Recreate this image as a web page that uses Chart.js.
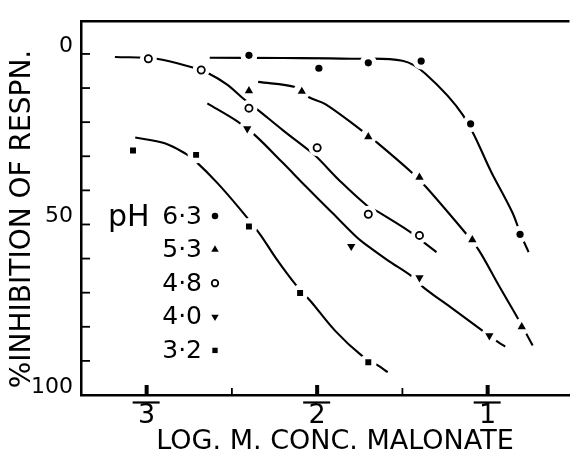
<!DOCTYPE html>
<html><head><meta charset="utf-8">
<script src="https://cdn.jsdelivr.net/npm/chart.js@4.4.0/dist/chart.umd.min.js"></script>
<style>html,body{margin:0;padding:0;background:#fff;}#wrap{width:578px;height:457px;}</style>
</head><body><div id="wrap"><canvas id="c" width="578" height="457"></canvas></div>
<script>
// ---- data ----
const phLabels = ['6·3', '5·3', '4·8', '4·0', '3·2'];
const xTickValues = [-3, -2, -1];
const xTickText = ['3', '2', '1'];   // printed with a bar over them (negative characteristic)
const yTickLabelValues = [0, 50, 100];
const xTitle = 'LOG. M. CONC. MALONATE';
const yTitle = '%INHIBITION OF RESPN.';

// measured points (x = log molar conc., y = % inhibition)
const ph63X = [-2.40, -1.99, -1.70, -1.39, -1.10, -0.81];
const ph63Y = [0.4, 4.2, 2.6, 2.1, 20.5, 52.9];
const ph53X = [-2.40, -2.09, -1.70, -1.40, -1.09, -0.80];
const ph53Y = [10.8, 11.0, 24.3, 36.2, 54.5, 80.0];
const ph48X = [-2.99, -2.68, -2.40, -2.00, -1.70, -1.40];
const ph48Y = [1.4, 4.7, 15.9, 27.5, 47.0, 53.2];
const ph40X = [-2.41, -1.80, -1.40, -0.99];
const ph40Y = [21.9, 56.4, 65.6, 82.6];
const ph32X = [-3.08, -2.71, -2.40, -2.10, -1.70];
const ph32Y = [28.3, 29.6, 50.6, 70.1, 90.4];

// hand-drawn fitted curves
const curve63X = [-2.63, -2.2, -1.8, -1.5, -1.365, -1.144, -0.976, -0.855, -0.806, -0.76];
const curve63Y = [1.1, 1.2, 1.4, 2.0, 5.8, 18.0, 34.9, 46.5, 52.9, 58.1];
const curve53X = [-2.346, -2.125, -2.048, -1.952, -1.74, -1.653, -1.442, -1.356, -1.125, -1.051, -0.937, -0.82, -0.736];
const curve53Y = [8.2, 9.8, 12.7, 14.7, 22.4, 25.8, 34.9, 39.3, 52.8, 57.6, 67.7, 77.8, 85.5];
const curve48X = [-3.186, -2.942, -2.72, -2.644, -2.53, -2.43, -2.355, -2.2, -2.048, -2.005, -1.855, -1.70, -1.653, -1.451, -1.365, -1.30];
const curve48Y = [0.9, 1.4, 4.1, 5.5, 8.9, 13.2, 16.1, 22.4, 28.3, 30.1, 37.8, 44.8, 46.0, 52.3, 55.6, 58.1];
const curve40X = [-2.644, -2.47, -2.365, -2.2, -2.067, -1.913, -1.769, -1.72, -1.586, -1.442, -1.375, -1.2, -1.029, -0.936, -0.897];
const curve40Y = [14.5, 19.7, 23.8, 32.0, 38.8, 46.5, 53.7, 55.7, 60.5, 65.3, 68.5, 74.9, 81.2, 84.6, 85.8];
const curve32X = [-3.067, -2.894, -2.77, -2.712, -2.586, -2.452, -2.336, -2.24, -2.125, -2.038, -1.894, -1.74, -1.644, -1.586];
const curve32Y = [24.5, 26.2, 29.3, 31.5, 37.8, 45.5, 52.8, 60.0, 67.7, 72.5, 81.2, 88.4, 91.3, 93.3];

// ---- build datasets ----
const zip = (xs, ys) => xs.map((x, i) => ({x, y: ys[i]}));
const markerStyles = [
  {pointStyle: 'circle', radius: 3.6, rotation: 0, fill: '#000', borderWidth: 0},
  {pointStyle: 'triangle', radius: 4.8, rotation: 0, fill: '#000', borderWidth: 0},
  {pointStyle: 'circle', radius: 3.6, rotation: 0, fill: '#fff', borderWidth: 1.8},
  {pointStyle: 'triangle', radius: 4.8, rotation: 180, fill: '#000', borderWidth: 0},
  {pointStyle: 'rect', radius: 4.2, rotation: 0, fill: '#000', borderWidth: 0}
];
const seriesX = [ph63X, ph53X, ph48X, ph40X, ph32X];
const seriesY = [ph63Y, ph53Y, ph48Y, ph40Y, ph32Y];
const curvesX = [curve63X, curve53X, curve48X, curve40X, curve32X];
const curvesY = [curve63Y, curve53Y, curve48Y, curve40Y, curve32Y];

const datasets = [];
phLabels.forEach((lab, i) => {
  datasets.push({
    label: 'curve ' + lab, data: zip(curvesX[i], curvesY[i]), showLine: true,
    borderColor: '#000', borderWidth: 2.1, pointRadius: 0, pointHoverRadius: 0,
    tension: 0.35, fill: false, order: 3
  });
});
phLabels.forEach((lab, i) => {
  datasets.push({
    label: 'halo ' + lab, data: zip(seriesX[i], seriesY[i]), showLine: false,
    pointStyle: 'circle', pointRadius: 8.5, pointBackgroundColor: '#fff',
    pointBorderWidth: 0, pointBorderColor: '#fff', pointHoverRadius: 8.5, order: 2
  });
});
phLabels.forEach((lab, i) => {
  const m = markerStyles[i];
  datasets.push({
    label: 'pH ' + lab, data: zip(seriesX[i], seriesY[i]), showLine: false,
    pointStyle: m.pointStyle, pointRadius: m.radius, pointRotation: m.rotation,
    pointBackgroundColor: m.fill, pointBorderColor: '#000', pointBorderWidth: m.borderWidth,
    pointHoverRadius: m.radius, order: 1
  });
});

const FONT = 'DejaVu Sans';

const framePlugin = {
  id: 'frame',
  afterDraw(chart) {
    const ctx = chart.ctx, a = chart.chartArea;
    const xs = chart.scales.x, ys = chart.scales.y;
    ctx.save();
    ctx.strokeStyle = '#000';
    // top border
    ctx.lineWidth = 2.5;
    ctx.beginPath(); ctx.moveTo(a.left - 1, a.top); ctx.lineTo(a.right, a.top); ctx.stroke();
    // y inward ticks
    ctx.lineWidth = 1.8;
    ys.ticks.forEach(t => {
      if (t.value >= 0 && t.value < 100) {
        const p = ys.getPixelForValue(t.value);
        ctx.beginPath(); ctx.moveTo(a.left, p); ctx.lineTo(a.left + 9, p); ctx.stroke();
      }
    });
    // x inward ticks + bars over the labels
    xs.ticks.forEach(t => {
      const p = xs.getPixelForValue(t.value);
      const major = Math.abs(t.value - Math.round(t.value)) < 1e-6;
      ctx.lineWidth = major ? 4 : 1.8;
      ctx.beginPath(); ctx.moveTo(p, a.bottom); ctx.lineTo(p, a.bottom - (major ? 10 : 7)); ctx.stroke();
      if (major) {
        ctx.lineWidth = 2.2;
        ctx.beginPath(); ctx.moveTo(p - 14, a.bottom + 7.5); ctx.lineTo(p + 13, a.bottom + 7.5); ctx.stroke();
      }
    });
    ctx.fillStyle = '#000';
    // x title
    ctx.font = '27px "' + FONT + '"';
    ctx.textAlign = 'center'; ctx.textBaseline = 'middle';
    ctx.fillText(xTitle, 335, 442);
    // y title
    ctx.font = '28px "' + FONT + '"';
    ctx.translate(23, 219); ctx.rotate(-Math.PI / 2);
    ctx.fillText(yTitle, 0, 0);
    ctx.restore();

    // legend
    ctx.save();
    ctx.fillStyle = '#000'; ctx.strokeStyle = '#000';
    ctx.textBaseline = 'middle';
    ctx.font = '30px "' + FONT + '"';
    ctx.textAlign = 'left';
    ctx.fillText('pH', 108, 218);
    ctx.font = '25px "' + FONT + '"';
    ctx.textAlign = 'right';
    const rowY0 = 217, rowStep = 33.6;
    phLabels.forEach((lab, i) => {
      const y = rowY0 + i * rowStep;
      ctx.fillText(lab, 202, y);
      const m = markerStyles[i];
      ctx.fillStyle = m.fill; ctx.lineWidth = m.borderWidth;
      Chart.helpers.drawPoint(ctx, {pointStyle: m.pointStyle, radius: m.radius * 0.9, rotation: m.rotation, borderWidth: m.borderWidth}, 215, y - 1);
      ctx.fillStyle = '#000';
    });
    ctx.restore();
  }
};

new Chart(document.getElementById('c'), {
  type: 'scatter',
  data: {datasets},
  options: {
    responsive: false, animation: false,
    layout: {padding: {top: 16, left: 0, right: 0, bottom: 0}},
    plugins: {legend: {display: false}, tooltip: {enabled: false}},
    scales: {
      x: {
        type: 'linear', min: -3.385, max: -0.52,
        grid: {display: false, drawTicks: false},
        border: {display: true, color: '#000', width: 2.5},
        ticks: {
          stepSize: 0.5, includeBounds: false, padding: 5, color: '#000',
          font: {family: FONT, size: 27},
          callback: (v) => { const k = xTickValues.findIndex(t => Math.abs(t - v) < 1e-6); return k >= 0 ? xTickText[k] : ''; }
        },
        afterFit: (s) => { s.height = 62; }
      },
      y: {
        type: 'linear', min: -9.6, max: 100, reverse: true,
        grid: {display: false, drawTicks: false},
        border: {display: true, color: '#000', width: 2.5},
        ticks: {
          stepSize: 10, includeBounds: false, padding: 8, labelOffset: -8, color: '#000',
          font: {family: FONT, size: 22},
          callback: (v) => yTickLabelValues.includes(v) ? String(v) : ''
        },
        afterFit: (s) => { s.width = 81; }
      }
    }
  },
  plugins: [framePlugin]
});
</script></body></html>
